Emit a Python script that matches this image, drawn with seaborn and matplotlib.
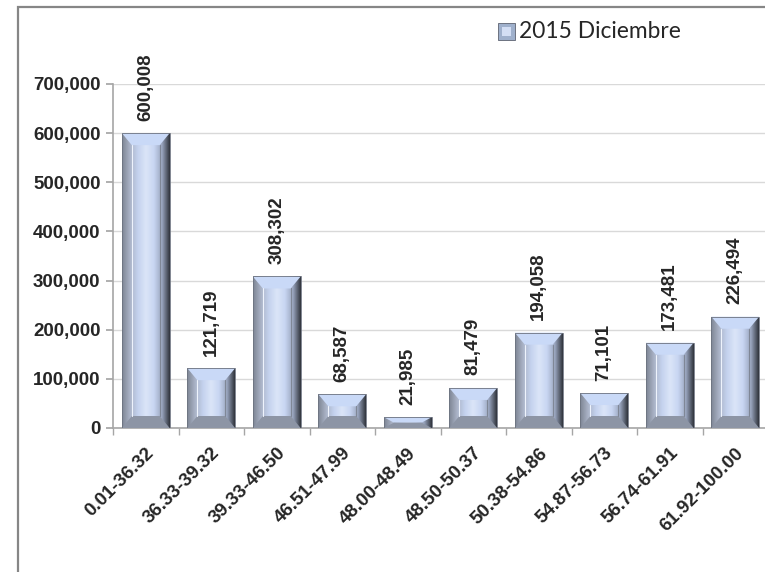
import matplotlib
matplotlib.use("Agg")
import matplotlib.pyplot as plt
import seaborn as sns
import numpy as np
import pandas as pd
from matplotlib.patches import Polygon, Rectangle
from matplotlib.colors import LinearSegmentedColormap

categories = ["0.01-36.32", "36.33-39.32", "39.33-46.50", "46.51-47.99", "48.00-48.49",
              "48.50-50.37", "50.38-54.86", "54.87-56.73", "56.74-61.91", "61.92-100.00"]
values = [600008, 121719, 308302, 68587, 21985, 81479, 194058, 71101, 173481, 226494]
series_name = "2015 Diciembre"
yticks = [0, 100000, 200000, 300000, 400000, 500000, 600000, 700000]

sns.set_theme(style="white")
plt.rcParams['font.family'] = ['Liberation Sans', 'DejaVu Sans']

FS = 13.5
W, H = 765, 572
fig = plt.figure(figsize=(W / 100, H / 100), dpi=100)
ax_left, ax_bottom = 113 / W, 1 - 428 / H
ax_w = (113 + 10 * 65.5) / W - ax_left
ax_h = (428 - 84) / H
ax = fig.add_axes([ax_left, ax_bottom, ax_w, ax_h])

df = pd.DataFrame({"cat": categories, "val": values})
sns.barplot(data=df, x="cat", y="val", color="#b8c8e8", width=0.73, ax=ax,
            edgecolor="none", zorder=2)

ax.set_xlim(-0.5, len(categories) - 0.5)
ax.set_ylim(0, 700000)
ax.set_yticks(yticks)
ax.set_yticklabels([f"{v:,}" for v in yticks], fontsize=FS, fontweight="bold")
ax.yaxis.grid(True, color="#d9d9d9", linewidth=1, zorder=0)
ax.set_axisbelow(True)
ax.set_xlabel("")
ax.set_ylabel("")
for s in ["top", "right"]:
    ax.spines[s].set_visible(False)
for s in ["left", "bottom"]:
    ax.spines[s].set_color("#a6a6a6")
    ax.spines[s].set_linewidth(1.2)
ax.tick_params(axis="y", which="both", left=True, length=5, color="#a6a6a6", pad=4)
ax.set_xticks(range(len(categories)))
ax.set_xticklabels(categories, rotation=45, ha="right", rotation_mode="anchor",
                   fontsize=FS, fontweight="bold")
ax.tick_params(axis="x", which="major", length=0, pad=12)
ax.set_xticks(np.arange(-0.5, len(categories), 1), minor=True)
ax.tick_params(axis="x", which="minor", bottom=True, length=5, color="#a6a6a6")

# bevelled bar decoration derived from the bar patches
px_x = 1 / 65.5
px_y = 700000 / 344.0
grad = LinearSegmentedColormap.from_list(
    "g", ["#7d8493", "#aab3c6", "#c4d2ee", "#dbe5f8", "#c8d6f2", "#9aa6bf", "#2f333b"])
gimg = np.linspace(0, 1, 256).reshape(1, -1)
for p in list(ax.patches):
    x0, y0 = p.get_x(), p.get_y()
    w, h = p.get_width(), p.get_height()
    x1, y1 = x0 + w, y0 + h
    im = ax.imshow(gimg, cmap=grad, aspect="auto", extent=(x0, x1, y0, y1),
                   zorder=3, interpolation="bilinear")
    im.set_clip_path(p)
    bx = 10 * px_x
    by = min(12 * px_y, h / 2)
    # top bevel
    ax.add_patch(Polygon([(x0, y1), (x1, y1), (x1 - bx, y1 - by), (x0 + bx, y1 - by)],
                         closed=True, facecolor="#c9d9f7", edgecolor="none", zorder=4))
    # bottom bevel
    ax.add_patch(Polygon([(x0, y0), (x1, y0), (x1 - bx, y0 + by), (x0 + bx, y0 + by)],
                         closed=True, facecolor="#8d95a5", edgecolor="none", zorder=4))
    # inner face outline lines
    ax.plot([x0 + bx, x0 + bx], [y0 + by, y1 - by], color="#eef3fc", lw=0.8, zorder=5)
    ax.plot([x1 - bx, x1 - bx], [y0 + by, y1 - by], color="#7f8796", lw=0.8, zorder=5)
    ax.add_patch(Rectangle((x0, y0), w, h, facecolor="none", edgecolor="#6d7380",
                           lw=0.6, zorder=6))

ax.bar_label(ax.containers[0], labels=[f"{v:,}" for v in values], rotation=90,
             padding=9, fontsize=FS, fontweight="bold", clip_on=False)

# legend (marker + text), text scaled to the reference width
mx0, my0, ms = 498, 23, 17
fig.patches.append(Rectangle((mx0 / W, 1 - (my0 + ms) / H), ms / W, ms / H,
                             transform=fig.transFigure, facecolor="#9fb0cc",
                             edgecolor="#5d6370", lw=0.6))
fig.patches.append(Polygon([((mx0 + 4) / W, 1 - (my0 + 4) / H), ((mx0 + ms - 4) / W, 1 - (my0 + 4) / H),
                            ((mx0 + ms - 4) / W, 1 - (my0 + ms - 4) / H), ((mx0 + 4) / W, 1 - (my0 + ms - 4) / H)],
                           closed=True, transform=fig.transFigure, facecolor="#d3def4", edgecolor="none"))
leg = fig.text(519 / W, 1 - 32 / H, series_name, fontsize=18, va="center", ha="left",
               family=["Lato", "DejaVu Sans"])
r = fig.canvas.get_renderer()
wpx = leg.get_window_extent(r).width
leg.set_fontsize(18 * 161 / wpx)

# chart border
fig.patches.append(Rectangle((18 / W, -0.1), 1.2, 1.1 - 7 / H, transform=fig.transFigure,
                             facecolor="none", edgecolor="#868686", lw=1.6))

fig.savefig("out.png", dpi=100)
